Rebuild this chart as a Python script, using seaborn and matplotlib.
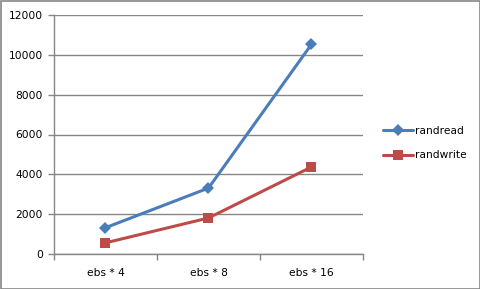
import matplotlib
matplotlib.use("Agg")
import matplotlib.pyplot as plt
import seaborn as sns
import pandas as pd
from matplotlib.ticker import FixedLocator

categories = ["ebs * 4", "ebs * 8", "ebs * 16"]
randread = [1320, 3310, 10530]
randwrite = [560, 1810, 4370]
y_ticks = [0, 2000, 4000, 6000, 8000, 10000, 12000]

df = pd.DataFrame({
    "cat": categories * 2,
    "pos": list(range(len(categories))) * 2,
    "value": randread + randwrite,
    "series": ["randread"] * 3 + ["randwrite"] * 3,
})

sns.set_style("white")
plt.rcParams['font.family'] = ['DejaVu Sans']
plt.rcParams['text.color'] = 'black'
plt.rcParams['xtick.labelcolor'] = 'black'
plt.rcParams['ytick.labelcolor'] = 'black'

fig = plt.figure(figsize=(4.81, 2.89), dpi=100)
ax = fig.add_axes([54 / 481, 1 - 254 / 289, (363 - 54) / 481, (254 - 15) / 289])

palette = {"randread": "#4A7EBB", "randwrite": "#BE4B48"}
sns.lineplot(data=df, x="pos", y="value", hue="series", style="series",
             markers={"randread": "D", "randwrite": "s"}, dashes=False,
             palette=palette, linewidth=2.2, markersize=7, markeredgewidth=0,
             sort=False, ax=ax)
for line in ax.lines:
    if line.get_marker() == "D":
        line.set_markersize(6)

ax.set_xlim(-0.5, 2.5)
ax.set_ylim(0, 12000)
ax.set_yticks(y_ticks)
ax.set_yticklabels([str(t) for t in y_ticks], fontsize=7.7, color="black")
ax.set_xticks(range(len(categories)))
ax.set_xticklabels(categories, fontsize=7.7, color="black")
ax.xaxis.set_minor_locator(FixedLocator([-0.5, 0.5, 1.5, 2.5]))
ax.tick_params(axis="x", which="major", length=0, pad=10)
ax.tick_params(axis="x", which="minor", length=4, color="#868686", width=1, direction="out", bottom=True)
ax.tick_params(axis="y", length=4, color="#868686", width=1, direction="out", left=True, pad=4)
ax.set_xlabel("")
ax.set_ylabel("")
ax.grid(axis="y", color="#868686", linewidth=1)
ax.set_axisbelow(True)
for s in ["top", "right"]:
    ax.spines[s].set_visible(False)
for s in ["left", "bottom"]:
    ax.spines[s].set_color("#868686")
    ax.spines[s].set_linewidth(1)

leg = ax.legend(loc="center left", bbox_to_anchor=(373 / 481, 1 - 143 / 289),
                bbox_transform=fig.transFigure, frameon=False, fontsize=7.7,
                handlelength=2.8, handletextpad=0.2, labelspacing=1.4)
for t in leg.get_texts():
    t.set_color("black")

border = plt.Rectangle((0.5 / 481, 0.5 / 289), 1 - 1.5 / 481, 1 - 1.5 / 289,
                       transform=fig.transFigure, fill=False,
                       edgecolor="#868686", linewidth=1.2)
fig.patches.append(border)

fig.savefig("out.png", dpi=100)
